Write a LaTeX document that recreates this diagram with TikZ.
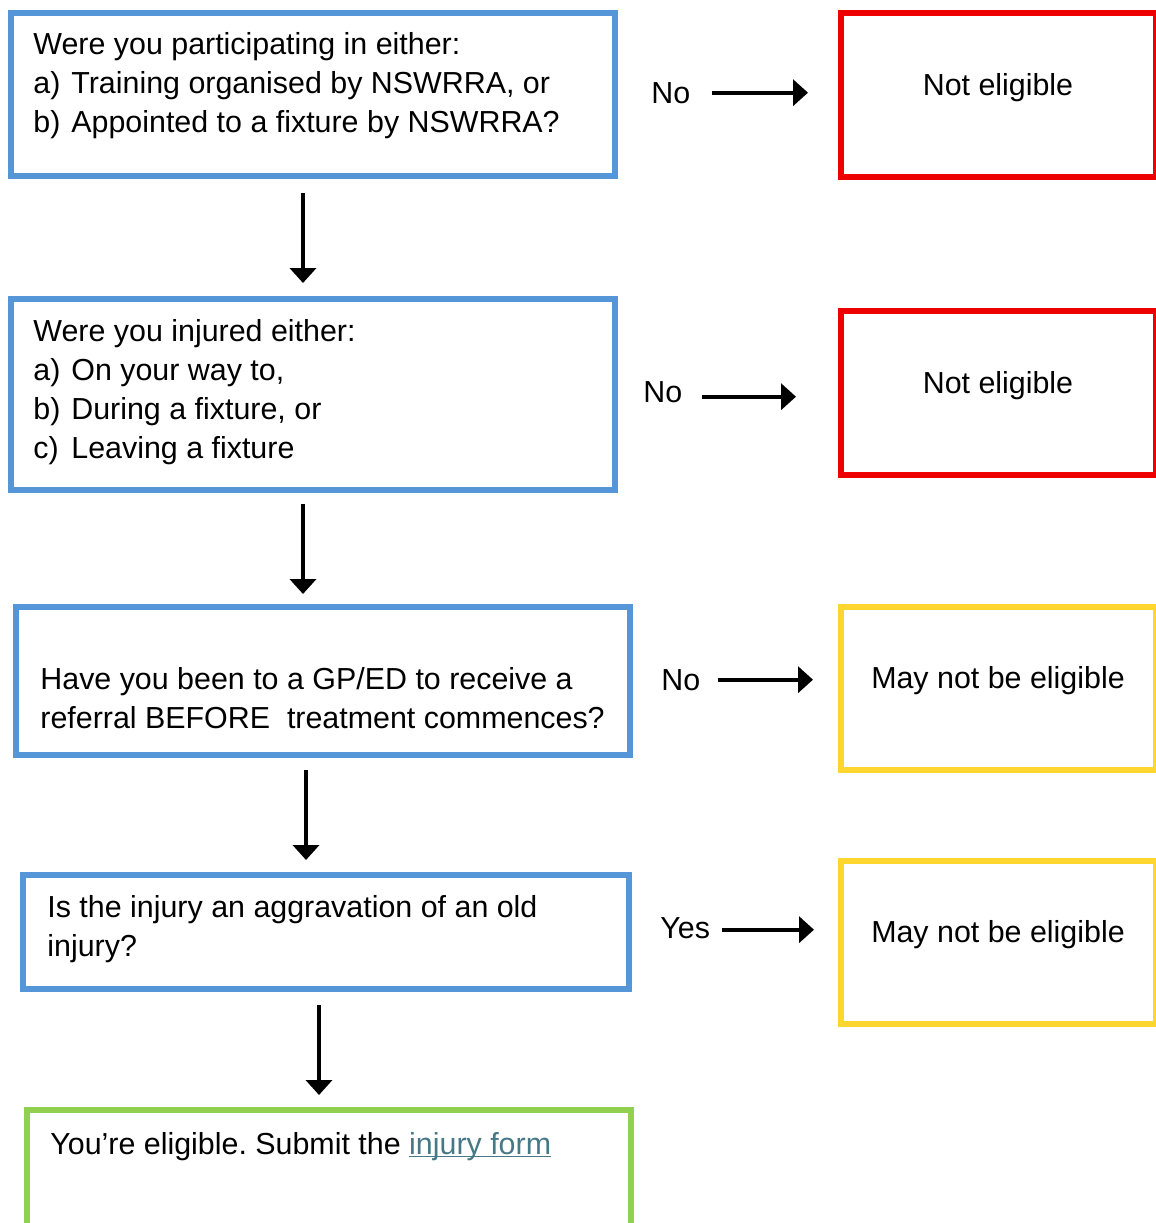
\documentclass[tikz,border=0pt]{standalone}
\usepackage{fontspec}
\setmainfont{Liberation Sans}
\usetikzlibrary{arrows.meta,positioning}
\definecolor{qblue}{HTML}{5596D8}
\definecolor{nored}{HTML}{EE0000}
\definecolor{maybey}{HTML}{FFD52F}
\definecolor{okgreen}{HTML}{92D050}
\definecolor{linkc}{HTML}{467886}
\newcommand{\itm}[1]{\makebox[19pt][l]{#1}}
\newcommand{\flowfont}{\fontsize{15.2}{19.5}\selectfont\frenchspacing}
\tikzset{
  qbox/.style={draw=qblue, line width=3pt, minimum width=302pt, inner sep=0pt},
  gbox/.style={qbox, draw=okgreen},
  rbox/.style={draw=nored, line width=3pt, minimum width=157.5pt, minimum height=82pt, inner sep=0pt},
  ybox/.style={rbox, draw=maybey, minimum height=81.5pt},
  txt/.style={font=\flowfont, align=left, anchor=base west, inner sep=0pt},
  res/.style={font=\flowfont, anchor=base, inner sep=0pt},
  lbl/.style={font=\flowfont, anchor=base west, inner sep=0pt},
  arr/.style={-{Triangle[length=7.5pt,width=13pt]}, line width=2pt, draw=black},
}
\begin{document}
\begin{tikzpicture}[x=0.5pt, y=-0.5pt]
  \useasboundingbox (0,0) rectangle (1156,1223);
  \clip (0,0) rectangle (1156,1223);
  % question boxes
  \node[qbox, minimum height=81.5pt] (q1) at (313,94.5) {};
  \node[qbox, minimum height=95.5pt] (q2) at (313,394.5) {};
  \node[qbox, minimum width=307pt, minimum height=74pt] (q3) at (323,681) {};
  \node[qbox, minimum width=303pt, minimum height=57pt] (q4) at (326,932) {};
  \node[gbox, minimum height=70pt] (ok) at (329,1180) {};
  % texts (anchored at the baseline of their last line)
  \node[txt] (t1) at (33,132) {Were you participating in either:\\\itm{a)}Training organised by NSWRRA, or\\\itm{b)}Appointed to a fixture by NSWRRA?};
  \node[txt] (t2) at (33,458) {Were you injured either:\\\itm{a)}On your way to,\\\itm{b)}During a fixture, or\\\itm{c)}Leaving a fixture};
  \node[txt] (t3) at (40,728) {Have you been to a GP/ED to receive a\\referral BEFORE\ \ treatment commences?};
  \node[txt] (t4) at (47,956) {Is the injury an aggravation of an old\\injury?};
  \node[txt] (t5) at (50,1154) {You’re eligible. Submit the \textcolor{linkc}{\underline{\smash{injury form}}}};
  % outcome boxes
  \node[rbox] (r1) at (998.5,95) {};
  \node[rbox] (r2) at (998.5,393) {};
  \node[ybox] (y3) at (998.5,688.5) {};
  \node[ybox] (y4) at (998.5,942.5) {};
  \node[res] (n1) at (998,95) {Not eligible};
  \node[res] (n2) at (998,393) {Not eligible};
  \node[res] (m3) at (998,688) {May not be eligible};
  \node[res] (m4) at (998,942) {May not be eligible};
  % answers
  \node[lbl] (l1) at (651,103) {No};
  \node[lbl] (l2) at (643,402) {No};
  \node[lbl] (l3) at (661,690) {No};
  \node[lbl] (l4) at (660,938) {Yes};
  \draw[arr, shorten <=10.5pt, shorten >=15pt] (l1.east) -- (l1.east -| r1.west);
  \draw[arr, shorten <=9.5pt, shorten >=21pt] ([yshift=-2.5pt]l2.east) -- ([yshift=-2.5pt]l2.east -| r2.west);
  \draw[arr, shorten <=8.5pt, shorten >=12.5pt] (l3.east) -- (l3.east -| y3.west);
  \draw[arr, shorten <=6pt, shorten >=12pt] ([yshift=-1pt]l4.east) -- ([yshift=-1pt]l4.east -| y4.west);
  % down the chain
  \draw[arr, shorten <=7pt, shorten >=6.5pt] ([xshift=-5pt]q1.south) -- ([xshift=-5pt]q1.south |- q2.north);
  \draw[arr, shorten <=5.5pt, shorten >=5pt] ([xshift=-5pt]q2.south) -- ([xshift=-5pt]q2.south |- q3.north);
  \draw[arr, shorten <=6pt, shorten >=6pt] ([xshift=-8.5pt]q3.south) -- ([xshift=-8.5pt]q3.south |- q4.north);
  \draw[arr, shorten <=6.5pt, shorten >=6pt] ([xshift=-3.5pt]q4.south) -- ([xshift=-3.5pt]q4.south |- ok.north);
\end{tikzpicture}
\end{document}
